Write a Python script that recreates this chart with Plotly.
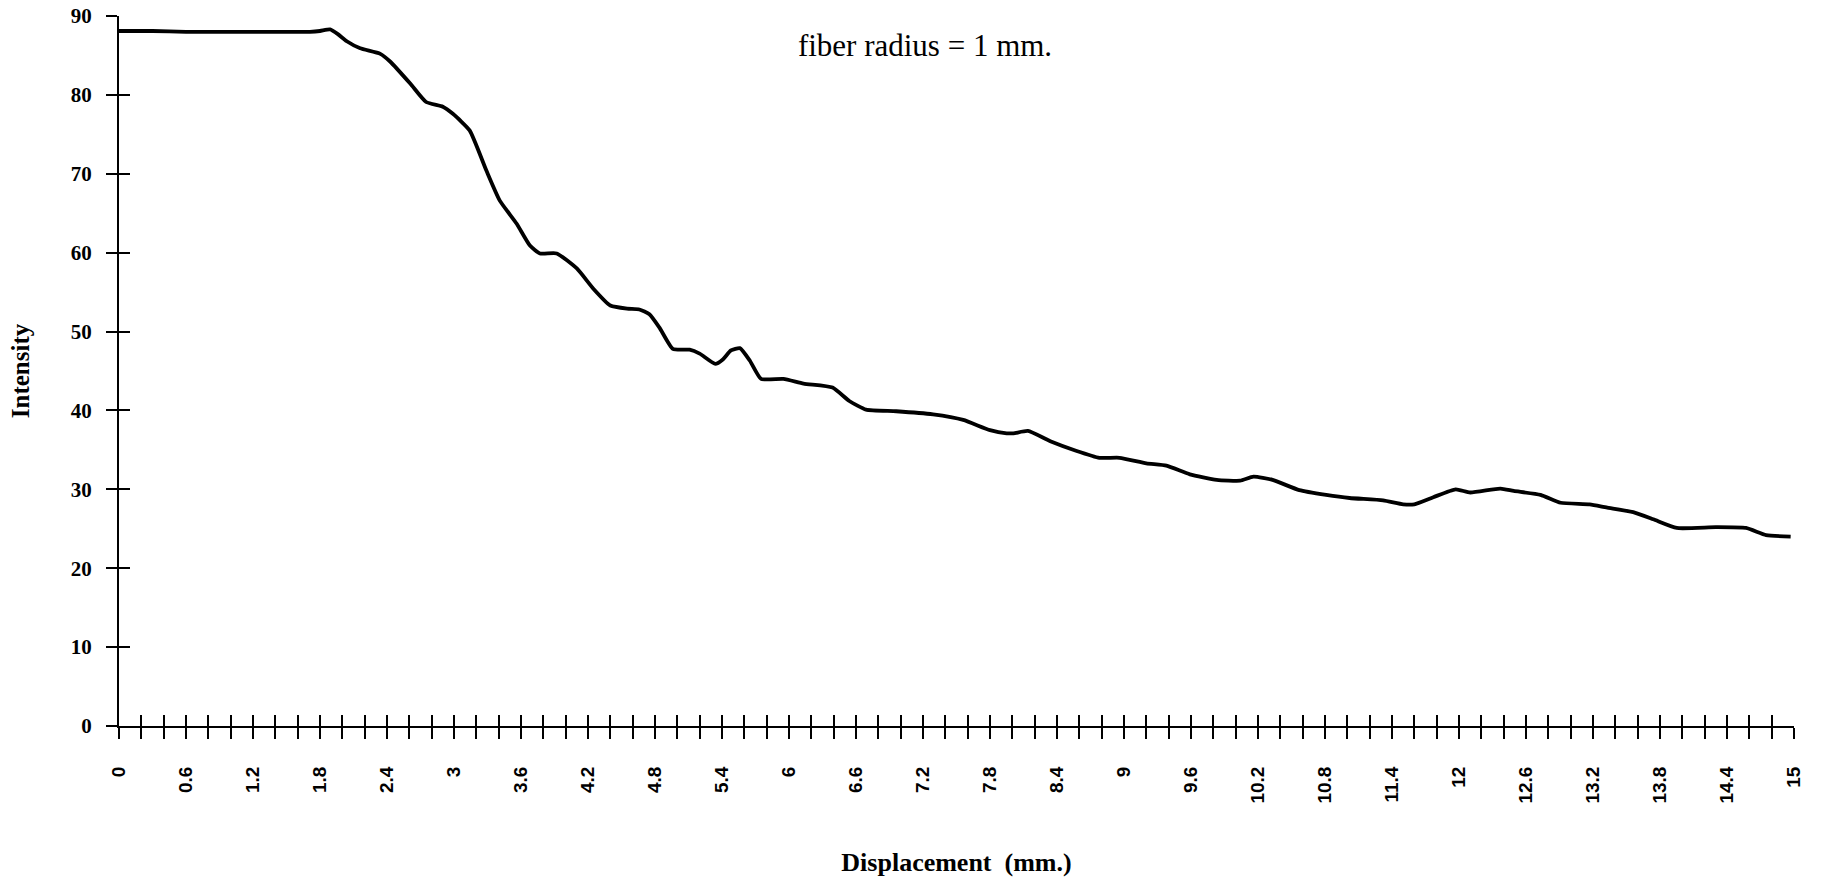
import numpy as np
import plotly.graph_objects as go

# Displacement (mm.) and Intensity
displacement = [0, 0.3, 0.6, 0.9, 1.2, 1.5, 1.71, 1.8, 1.89, 1.96, 2.04, 2.16, 2.34, 2.43, 2.61, 2.75,
                2.9, 2.99, 3.14, 3.29, 3.41, 3.56, 3.68, 3.77, 3.92, 4.1, 4.25, 4.4, 4.55, 4.66, 4.75,
                4.84, 4.96, 5.11, 5.2, 5.34, 5.41, 5.48, 5.56, 5.65, 5.75, 5.95, 6.13, 6.39, 6.54, 6.69,
                6.96, 7.29, 7.56, 7.8, 7.95, 8.01, 8.14, 8.34, 8.57, 8.78, 8.96, 9.2, 9.38, 9.59, 9.83,
                10.04, 10.16, 10.33, 10.57, 10.81, 11.02, 11.32, 11.5, 11.6, 11.77, 11.97, 12.1, 12.37,
                12.49, 12.73, 12.91, 13.17, 13.32, 13.56, 13.74, 13.95, 14.3, 14.57, 14.75, 14.97]
intensity = [88.1, 88.1, 88.0, 88.0, 88.0, 88.0, 88.0, 88.1, 88.3, 87.7, 86.8, 85.9, 85.2, 84.2, 81.4, 79.1,
             78.5, 77.6, 75.5, 70.4, 66.6, 63.7, 60.9, 59.9, 59.9, 58.0, 55.4, 53.3, 52.9, 52.8, 52.2,
             50.5, 47.8, 47.7, 47.2, 45.9, 46.5, 47.6, 47.9, 46.3, 44.0, 44.0, 43.4, 42.9, 41.2, 40.1,
             39.9, 39.5, 38.8, 37.5, 37.1, 37.1, 37.4, 36.1, 34.9, 34.0, 34.0, 33.3, 33.0, 31.9, 31.2,
             31.1, 31.6, 31.2, 29.9, 29.3, 28.9, 28.6, 28.1, 28.1, 29.0, 30.0, 29.6, 30.1, 29.8, 29.3,
             28.3, 28.1, 27.7, 27.1, 26.2, 25.1, 25.2, 25.1, 24.2, 24.0]

x_tick_labels = ["0", "0.6", "1.2", "1.8", "2.4", "3", "3.6", "4.2", "4.8", "5.4", "6", "6.6", "7.2",
                 "7.8", "8.4", "9", "9.6", "10.2", "10.8", "11.4", "12", "12.6", "13.2", "13.8", "14.4", "15"]
y_tick_values = [0, 10, 20, 30, 40, 50, 60, 70, 80, 90]

title_text = "fiber radius = 1 mm."
x_title = "Displacement  (mm.)"
y_title = "Intensity"

# tick marks every 0.2 mm, labels every 0.6 mm
x_ticks = [round(i * 0.2, 1) for i in range(76)]
x_text = []
for i, v in enumerate(x_ticks):
    x_text.append(x_tick_labels[i // 3] if i % 3 == 0 else "")

W, H = 1832, 884
L, R, T, B = 119, 38, 16, 158

fig = go.Figure()
fig.add_trace(go.Scatter(x=displacement, y=intensity, mode="lines",
                         line=dict(color="black", width=3.8, shape="spline", smoothing=0.5),
                         showlegend=False, hoverinfo="skip"))
# companion (invisible) trace so the overlaid tick axes render
fig.add_trace(go.Scatter(x=displacement, y=intensity, mode="lines", xaxis="x2", yaxis="y2",
                         line=dict(color="rgba(0,0,0,0)", width=0), showlegend=False, hoverinfo="skip"))

tick_font_x = dict(family="Liberation Sans", size=19, color="black", weight="bold")
tick_font_y = dict(family="Liberation Serif", size=21, color="black", weight="bold")

fig.update_layout(
    width=W, height=H,
    margin=dict(l=L, r=R, t=T, b=B),
    paper_bgcolor="white", plot_bgcolor="white",
    title=dict(text=title_text, x=925 / W, xref="container", xanchor="center",
               y=1 - 45 / H, yref="container", yanchor="middle",
               font=dict(family="Liberation Serif", size=31, color="black")),
    xaxis=dict(range=[0, 15], tickmode="array", tickvals=x_ticks, ticktext=x_text,
               ticks="outside", ticklen=11, tickwidth=2, tickcolor="black",
               showline=True, linewidth=2, linecolor="black", showgrid=False, zeroline=False,
               tickangle=-90, tickfont=tick_font_x, ticklabelstandoff=20,
               title=dict(text=x_title, standoff=50,
                          font=dict(family="Liberation Serif", size=26, color="black", weight="bold")),
               automargin=False),
    xaxis2=dict(range=[0, 15], overlaying="x", side="bottom", anchor="y", tickmode="array",
                tickvals=x_ticks, ticks="inside", ticklen=11, tickwidth=2, tickcolor="black",
                showticklabels=False, showline=False, showgrid=False, zeroline=False, automargin=False),
    yaxis=dict(range=[0, 90], tickmode="array", tickvals=y_tick_values,
               ticks="outside", ticklen=11, tickwidth=2, tickcolor="black",
               showline=True, linewidth=2, linecolor="black", showgrid=False, zeroline=False,
               tickfont=tick_font_y, ticklabelstandoff=10,
               title=dict(text=y_title, standoff=34,
                          font=dict(family="Liberation Serif", size=25, color="black", weight="bold")),
               automargin=False),
    yaxis2=dict(range=[0, 90], overlaying="y", side="left", anchor="x", tickmode="array",
                tickvals=y_tick_values, ticks="inside", ticklen=11, tickwidth=2, tickcolor="black",
                showticklabels=False, showline=False, showgrid=False, zeroline=False, automargin=False),
)

fig.write_html("out.html")
